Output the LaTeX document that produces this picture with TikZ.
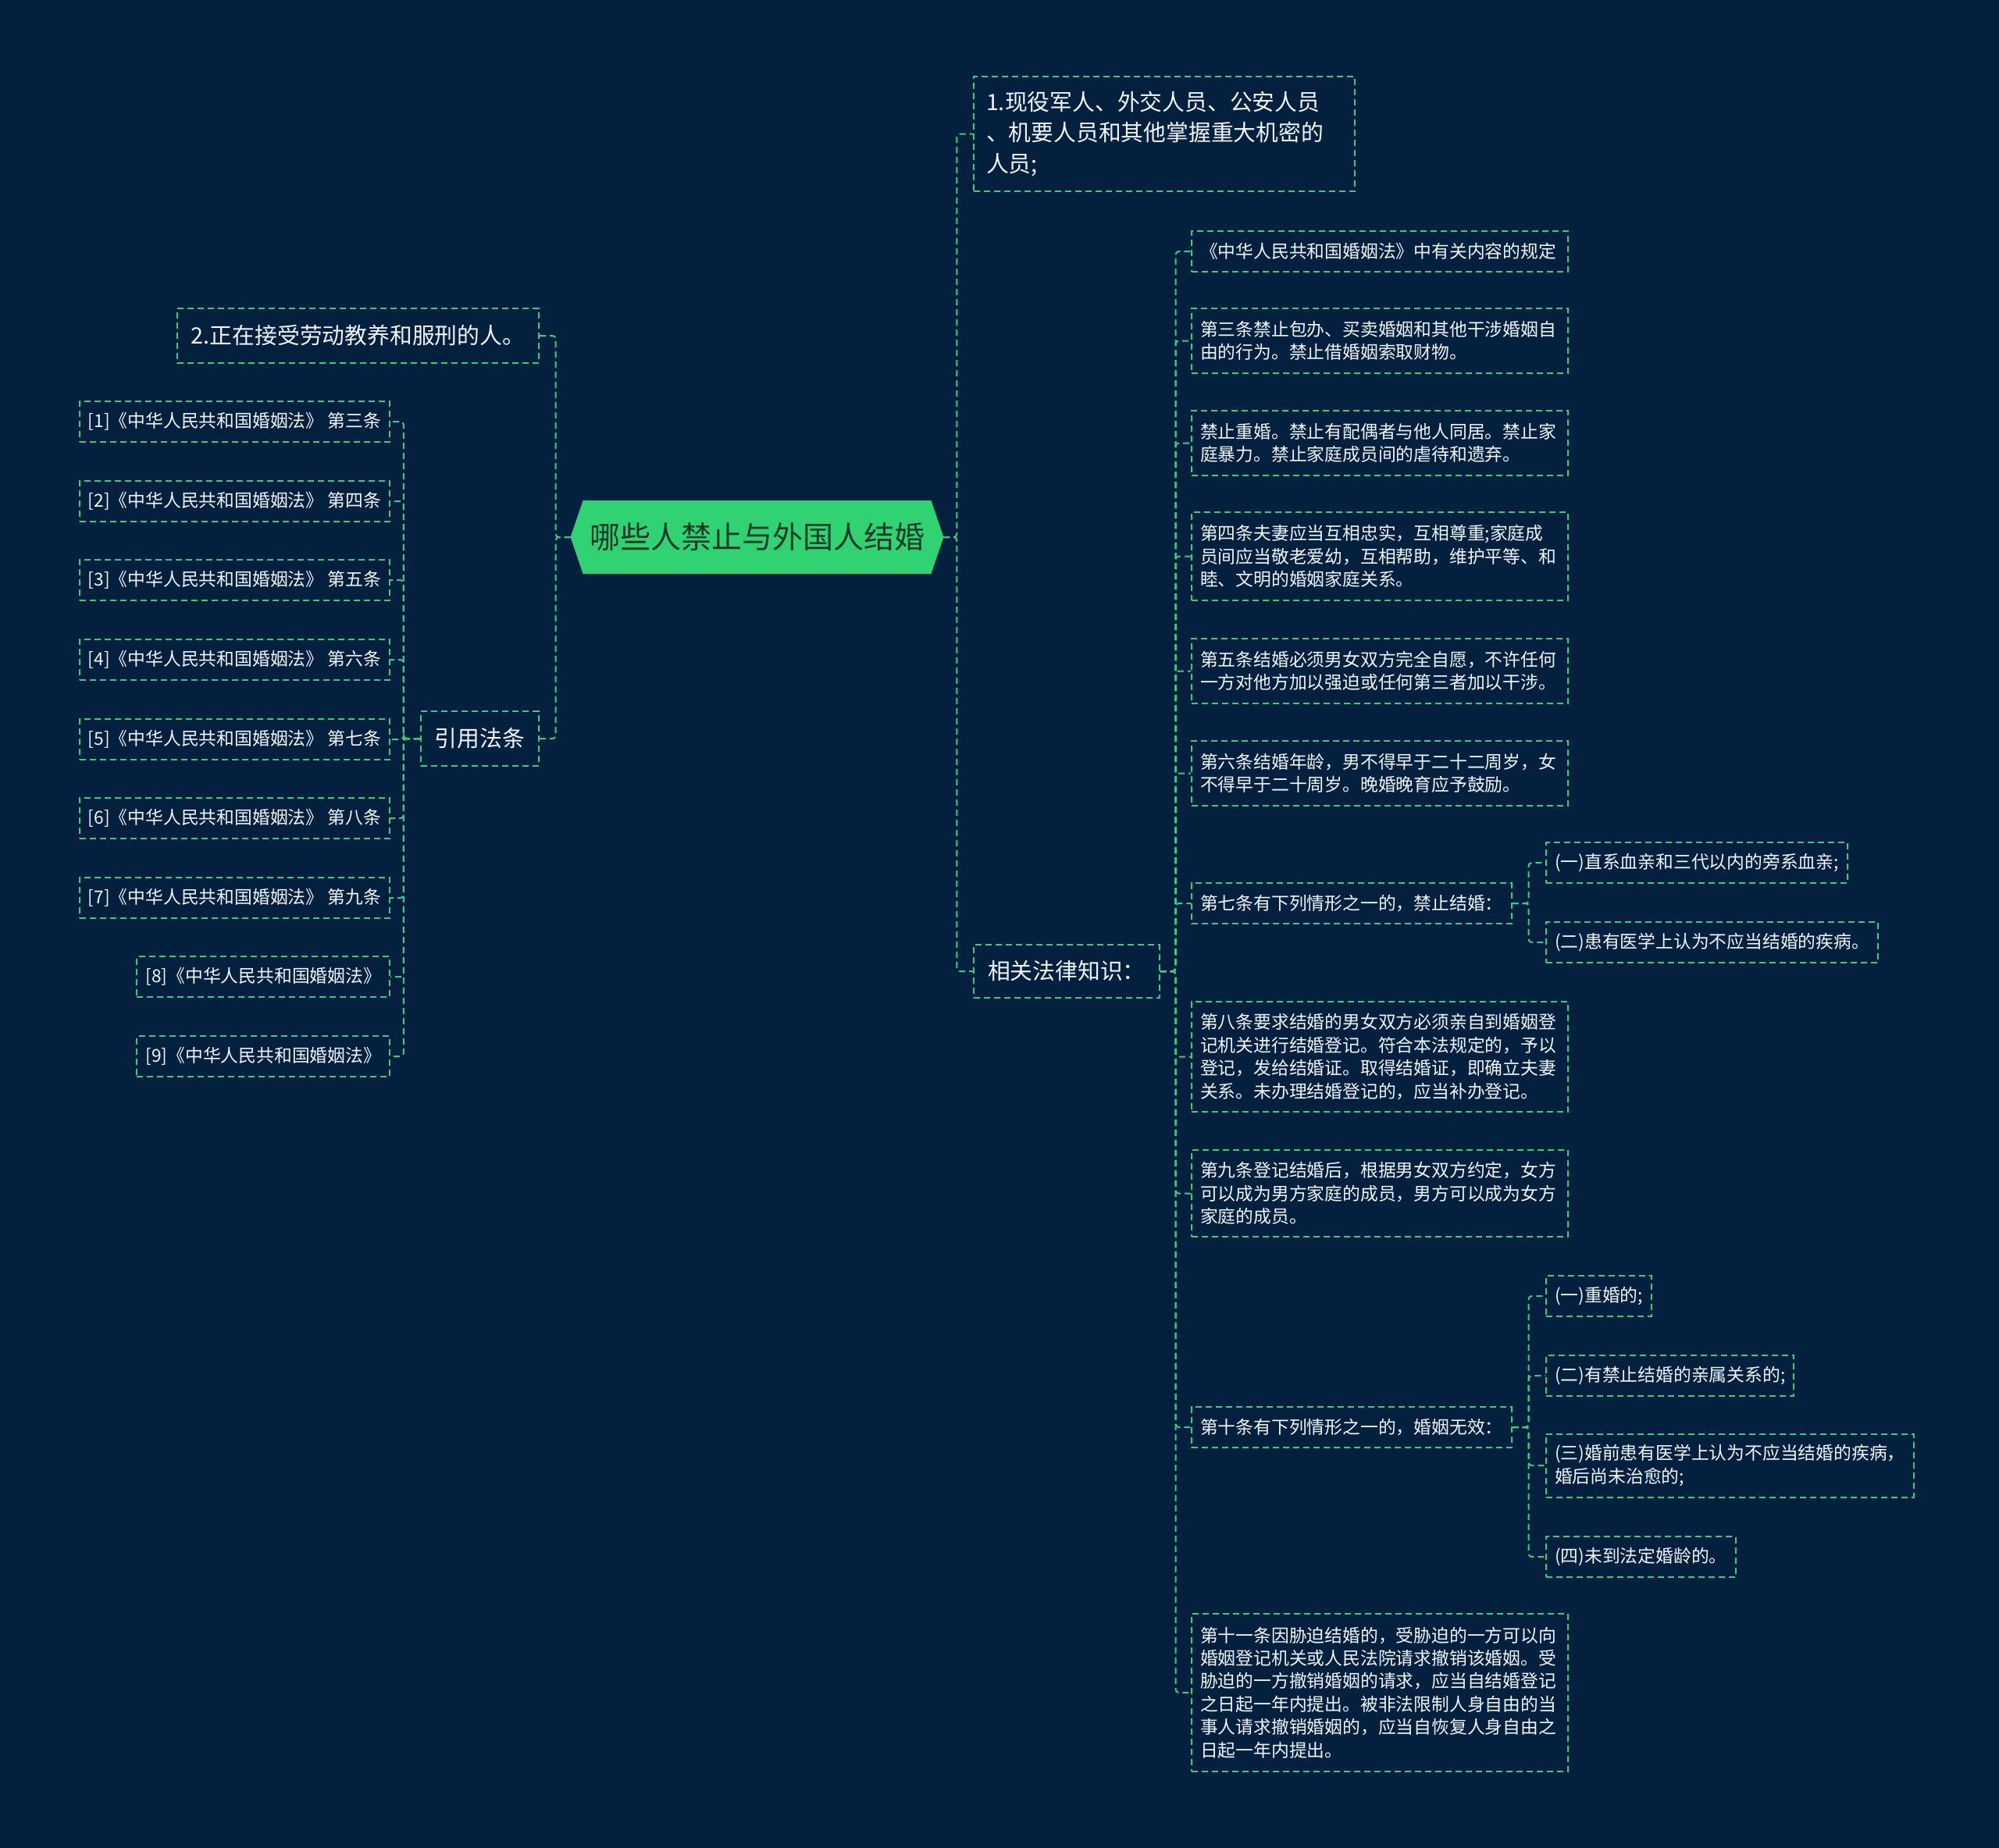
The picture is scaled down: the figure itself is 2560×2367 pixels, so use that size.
\documentclass[tikz,border=0pt]{standalone}
\usepackage{fontspec}
\setmainfont{Noto Sans CJK SC}
\usetikzlibrary{backgrounds}
\definecolor{bg}{HTML}{03213F}
\definecolor{lg}{HTML}{3ACB7E}
\definecolor{rootfill}{HTML}{30D271}
\definecolor{roottext}{HTML}{1C3A2C}
\definecolor{txt}{HTML}{F2F5F8}
\begin{document}
\begin{tikzpicture}[x=0.5pt,y=-0.5pt,
  box/.style={draw=lg, line width=1pt, dash pattern=on 4pt off 2.5pt, text=txt, inner ysep=0pt, align=left},
  lvone/.style={box, font=\fontsize{14.4}{19.6}\selectfont, inner xsep=9pt},
  lvtwo/.style={box, font=\fontsize{11.4}{14.7}\selectfont, inner xsep=5.5pt, minimum height=26pt},
  wide/.style={lvtwo, text width=230pt},
  conn/.style={draw=lg, line width=1pt, dash pattern=on 4pt off 2.5pt, rounded corners=2pt},
]
\useasboundingbox (0,0) rectangle (2560,2367);

% root
\node[minimum width=238.5pt, minimum height=46.5pt, inner sep=0pt,
      font=\fontsize{19.5}{24}\selectfont, text=roottext] (root) at (969.5,688) {哪些人禁止与外国人结婚};

% level 1
\node[lvone, anchor=west, text width=228pt, inner xsep=8pt, minimum height=73.5pt] (n1) at (1246,171.5)
  {1.现役军人、外交人员、公安人员\\、机要人员和其他掌握重大机密的\\人员;};
\node[lvone, anchor=east, minimum height=35pt] (n2) at (691,430) {2.正在接受劳动教养和服刑的人。};
\node[lvone, anchor=east, minimum height=35pt] (cite) at (691,946) {引用法条};
\node[lvone, anchor=west, minimum height=34pt] (law) at (1246,1244) {相关法律知识：};

% cited articles
\node[lvtwo, anchor=east] (r1) at (500,540) {[1]《中华人民共和国婚姻法》 第三条};
\node[lvtwo, anchor=east] (r2) at (500,642) {[2]《中华人民共和国婚姻法》 第四条};
\node[lvtwo, anchor=east] (r3) at (500,743) {[3]《中华人民共和国婚姻法》 第五条};
\node[lvtwo, anchor=east] (r4) at (500,845) {[4]《中华人民共和国婚姻法》 第六条};
\node[lvtwo, anchor=east] (r5) at (500,947) {[5]《中华人民共和国婚姻法》 第七条};
\node[lvtwo, anchor=east] (r6) at (500,1048) {[6]《中华人民共和国婚姻法》 第八条};
\node[lvtwo, anchor=east] (r7) at (500,1150) {[7]《中华人民共和国婚姻法》 第九条};
\node[lvtwo, anchor=east] (r8) at (500,1251) {[8]《中华人民共和国婚姻法》};
\node[lvtwo, anchor=east] (r9) at (500,1353) {[9]《中华人民共和国婚姻法》};

% law knowledge
\node[wide, anchor=west] (c1) at (1525,322) {《中华人民共和国婚姻法》中有关内容的规定};
\node[wide, anchor=west, minimum height=41.5pt] (c2) at (1525,436.5)
  {第三条禁止包办、买卖婚姻和其他干涉婚姻自\\由的行为。禁止借婚姻索取财物。};
\node[wide, anchor=west, minimum height=41.5pt] (c3) at (1525,567.5)
  {禁止重婚。禁止有配偶者与他人同居。禁止家\\庭暴力。禁止家庭成员间的虐待和遗弃。};
\node[wide, anchor=west, minimum height=56.5pt] (c4) at (1525,712.5)
  {第四条夫妻应当互相忠实，互相尊重;家庭成\\员间应当敬老爱幼，互相帮助，维护平等、和\\睦、文明的婚姻家庭关系。};
\node[wide, anchor=west, minimum height=41.5pt] (c5) at (1525,859.5)
  {第五条结婚必须男女双方完全自愿，不许任何\\一方对他方加以强迫或任何第三者加以干涉。};
\node[wide, anchor=west, minimum height=41.5pt] (c6) at (1525,990.5)
  {第六条结婚年龄，男不得早于二十二周岁，女\\不得早于二十周岁。晚婚晚育应予鼓励。};
\node[lvtwo, anchor=west] (c7) at (1525,1157) {第七条有下列情形之一的，禁止结婚：};
\node[lvtwo, anchor=west] (c7a) at (1979,1105) {(一)直系血亲和三代以内的旁系血亲;};
\node[lvtwo, anchor=west] (c7b) at (1979,1207) {(二)患有医学上认为不应当结婚的疾病。};
\node[wide, anchor=west, minimum height=70.5pt] (c8) at (1525,1353.5)
  {第八条要求结婚的男女双方必须亲自到婚姻登\\记机关进行结婚登记。符合本法规定的，予以\\登记，发给结婚证。取得结婚证，即确立夫妻\\关系。未办理结婚登记的，应当补办登记。};
\node[wide, anchor=west, minimum height=55.5pt] (c9) at (1525,1528.5)
  {第九条登记结婚后，根据男女双方约定，女方\\可以成为男方家庭的成员，男方可以成为女方\\家庭的成员。};
\node[lvtwo, anchor=west] (c10) at (1525,1828) {第十条有下列情形之一的，婚姻无效：};
\node[lvtwo, anchor=west] (c10a) at (1979,1660) {(一)重婚的;};
\node[lvtwo, anchor=west] (c10b) at (1979,1762) {(二)有禁止结婚的亲属关系的;};
\node[lvtwo, anchor=west, minimum height=40.5pt] (c10c) at (1979,1877)
  {(三)婚前患有医学上认为不应当结婚的疾病，\\婚后尚未治愈的;};
\node[lvtwo, anchor=west] (c10d) at (1979,1994) {(四)未到法定婚龄的。};
\node[wide, anchor=west, minimum height=101pt] (c11) at (1525,2168)
  {第十一条因胁迫结婚的，受胁迫的一方可以向\\婚姻登记机关或人民法院请求撤销该婚姻。受\\胁迫的一方撤销婚姻的请求，应当自结婚登记\\之日起一年内提出。被非法限制人身自由的当\\事人请求撤销婚姻的，应当自恢复人身自由之\\日起一年内提出。};

% background and root hexagon
\begin{scope}[on background layer]
\fill[bg] (0,0) rectangle (2560,2367);
\fill[rootfill] (root.west) -- ([xshift=8pt]root.north west) -- ([xshift=-8pt]root.north east)
  -- (root.east) -- ([xshift=-8pt]root.south east) -- ([xshift=8pt]root.south west) -- cycle;
\end{scope}

% connectors
\foreach \c in {n1,law}
  \draw[conn] (root.east) -- ++(17,0) |- (\c.west);
\foreach \c in {n2,cite}
  \draw[conn] (root.west) -- ++(-19,0) |- (\c.east);
\foreach \c in {r1,r2,r3,r4,r5,r6,r7,r8,r9}
  \draw[conn] (cite.west) -- ++(-21,0) |- (\c.east);
\foreach \c in {c1,c2,c3,c4,c5,c6,c7,c8,c9,c10,c11}
  \draw[conn] (law.east) -- ++(20,0) |- (\c.west);
\foreach \c in {c7a,c7b}
  \draw[conn] (c7.east) -- ++(21,0) |- (\c.west);
\foreach \c in {c10a,c10b,c10c,c10d}
  \draw[conn] (c10.east) -- ++(21,0) |- (\c.west);
\end{tikzpicture}
\end{document}
